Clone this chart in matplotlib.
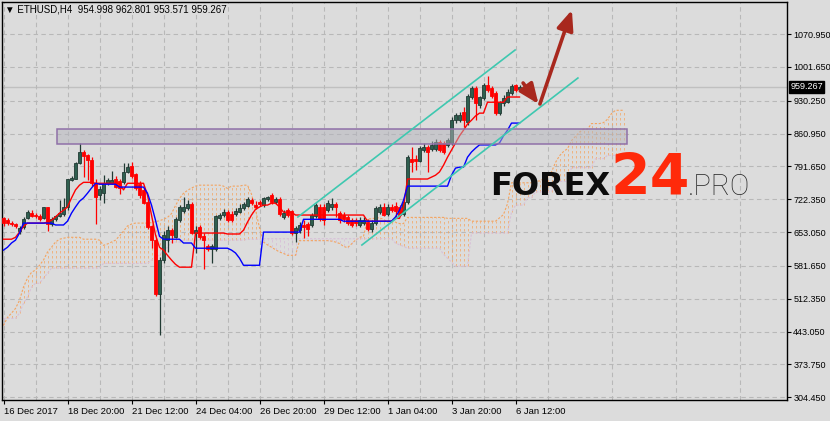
import matplotlib
matplotlib.use("Agg")
import matplotlib.pyplot as plt
from matplotlib.patches import Rectangle
import numpy as np

plt.rcParams['font.family'] = ['Liberation Sans', 'DejaVu Sans']

# ---------------- data (ETHUSD, H4) ----------------
opens = [682, 678, 672, 670, 655, 663, 682, 694, 690, 688,
         682, 705, 670, 680, 687, 691, 706, 763, 766, 799,
         822, 815, 806, 757, 731, 736, 757, 757, 766, 761,
         759, 780, 792, 775, 755, 741, 717, 665, 636, 523,
         594, 636, 657, 643, 678, 697, 703, 713, 651, 664,
         644, 624, 617, 618, 682, 689, 696, 691, 691, 696,
         703, 709, 721, 711, 716, 710, 722, 731, 716, 722,
         684, 699, 697, 651, 658, 668, 670, 668, 686, 707,
         706, 699, 705, 712, 693, 690, 685, 678, 678, 668,
         672, 675, 659, 672, 696, 706, 691, 707, 708, 705,
         691, 716, 808, 808, 804, 826, 832, 829, 829, 843,
         841, 836, 841, 889, 890, 906, 886, 938, 958, 921,
         936, 963, 957, 946, 904, 925, 928, 946, 963, 954.998]
highs = [685, 682, 676, 672, 666, 684, 700, 699, 694, 692,
         707, 707, 685, 690, 720, 724, 766, 772, 800, 841,
         826, 817, 812, 766, 750, 774, 768, 781, 772, 764,
         798, 799, 800, 778, 760, 745, 720, 668, 640, 600,
         655, 665, 662, 684, 710, 727, 720, 716, 665, 668,
         652, 628, 628, 690, 694, 702, 700, 697, 703, 712,
         716, 727, 725, 718, 721, 728, 730, 736, 726, 727,
         700, 703, 700, 666, 675, 678, 675, 694, 715, 712,
         712, 720, 725, 716, 698, 695, 690, 682, 682, 684,
         684, 680, 678, 708, 712, 714, 712, 712, 716, 710,
         720, 815, 832, 815, 835, 840, 836, 845, 850, 847,
         846, 852, 895, 905, 906, 917, 945, 962, 962, 941,
         967, 982, 962, 950, 930, 942, 954, 965, 966, 962.801]
lows = [666, 667, 666, 661, 650, 660, 680, 685, 683, 677,
        680, 656, 666, 677, 684, 688, 700, 760, 764, 797,
        770, 763, 750, 671, 720, 714, 752, 754, 745, 733,
        755, 778, 768, 742, 724, 712, 660, 620, 518, 435,
        588, 610, 630, 640, 675, 694, 700, 648, 608, 638,
        576, 613, 588, 614, 678, 685, 675, 675, 688, 693,
        700, 705, 710, 702, 708, 706, 718, 712, 712, 688,
        680, 685, 647, 632, 652, 641, 645, 664, 683, 676,
        668, 695, 700, 685, 672, 675, 668, 664, 666, 664,
        667, 655, 653, 668, 692, 686, 688, 696, 684, 686,
        688, 712, 780, 784, 800, 822, 780, 825, 825, 822,
        818, 832, 836, 884, 885, 875, 880, 934, 890, 915,
        932, 948, 936, 900, 900, 920, 925, 942, 948, 953.571]
closes = [672, 673, 670, 665, 662, 680, 696, 688, 686, 680,
          705, 670, 681, 687, 694, 706, 764, 768, 799, 822,
          813, 805, 756, 726, 744, 757, 762, 763, 749, 745,
          780, 791, 771, 745, 731, 715, 664, 636, 523, 594,
          646, 657, 646, 680, 706, 706, 713, 651, 658, 642,
          636, 617, 624, 686, 689, 696, 678, 678, 698, 703,
          712, 722, 714, 705, 712, 724, 727, 717, 722, 692,
          694, 690, 651, 661, 669, 664, 660, 689, 710, 680,
          678, 714, 712, 705, 678, 680, 672, 668, 672, 678,
          678, 659, 672, 703, 706, 689, 707, 700, 698, 690,
          716, 811, 800, 803, 830, 832, 822, 836, 843, 826,
          822, 847, 889, 900, 900, 890, 940, 958, 925, 937,
          963, 953, 940, 904, 927, 936, 949, 961, 953, 959.267]

tenkan = [638, 638, 638, 642, 653, 665, 672, 672, 672, 672,
          672, 674, 678, 685, 693, 699, 706, 725, 742, 752,
          758, 758, 758, 756, 756, 756, 756, 756, 756, 756,
          742, 756, 756, 756, 756, 756, 731, 689, 647, 621,
          615, 604, 594, 585, 579, 579, 579, 579, 651, 651,
          651, 651, 651, 651, 651, 651, 649, 649, 649, 649,
          657, 674, 689, 701, 706, 710, 710, 714, 714, 706,
          695, 695, 695, 689, 689, 689, 689, 689, 689, 689,
          689, 689, 689, 689, 689, 689, 689, 689, 689, 689,
          689, 676, 676, 676, 676, 676, 676, 676, 682, 682,
          706, 765, 765, 765, 765, 765, 765, 769, 773, 780,
          794, 811, 826, 841, 856, 868, 881, 889, 898, 904,
          904, 927, 927, 927, 927, 927, 938, 938, 938, 938]
kijun = [615, 621, 630, 636, 651, 672, 672, 672, 672, 672,
         672, 672, 672, 668, 668, 668, 676, 693, 706, 718,
         725, 735, 746, 756, 754, 754, 754, 754, 754, 748,
         748, 748, 748, 748, 748, 748, 735, 710, 678, 644,
         638, 638, 638, 638, 638, 630, 630, 630, 619, 619,
         619, 619, 619, 619, 619, 619, 619, 615, 609, 598,
         583, 583, 583, 583, 583, 653, 653, 653, 653, 653,
         653, 653, 653, 653, 653, 680, 680, 680, 680, 680,
         680, 680, 680, 680, 680, 676, 676, 676, 676, 676,
         676, 676, 676, 676, 676, 676, 676, 676, 685, 699,
         720, 750, 750, 750, 750, 750, 750, 750, 750, 750,
         750, 750, 773, 788, 790, 790, 811, 822, 830, 837,
         837, 837, 837, 837, 841, 856, 868, 883, 883, 883]
span_a = [456, 473, 482, 492, 509, 537, 556, 568, 573, 583,
          594, 611, 621, 632, 638, 640, 642, 642, 642, 642,
          638, 638, 638, 638, 636, 625, 628, 632, 636, 645,
          655, 666, 670, 672, 672, 672, 672, 673, 675, 677,
          680, 684, 692, 709, 724, 735, 741, 746, 750, 752,
          752, 752, 752, 752, 752, 750, 745, 750, 750, 750,
          752, 752, 733, 700, 662, 632, 626, 621, 616, 611,
          608, 604, 604, 604, 635, 635, 635, 635, 635, 635,
          635, 635, 634, 632, 629, 623, 620, 628, 636, 642,
          644, 681, 681, 683, 683, 680, 674, 674, 674, 671,
          671, 684, 684, 684, 684, 684, 684, 684, 684, 684,
          684, 682, 682, 682, 682, 682, 682, 676, 676, 676,
          676, 676, 676, 676, 683, 690, 713, 757, 757, 757,
          757, 757, 757, 760, 761, 765, 772, 780, 800, 814,
          823, 829, 846, 855, 864, 870, 870, 882, 882, 882,
          884, 891, 903, 910, 910, 910]
span_b = [471, 471, 471, 471, 482, 503, 516, 537, 545, 545,
          556, 566, 577, 577, 577, 577, 577, 577, 577, 577,
          577, 577, 577, 577, 577, 587, 587, 587, 587, 587,
          587, 587, 587, 587, 587, 587, 587, 594, 600, 604,
          615, 621, 632, 632, 632, 636, 636, 636, 636, 636,
          636, 636, 636, 636, 636, 636, 636, 636, 636, 636,
          636, 638, 638, 638, 638, 639, 639, 639, 639, 639,
          639, 639, 639, 639, 639, 639, 639, 639, 639, 639,
          639, 639, 639, 639, 639, 639, 639, 639, 639, 639,
          639, 639, 639, 639, 639, 639, 639, 639, 630, 626,
          623, 619, 619, 619, 619, 619, 619, 619, 619, 619,
          606, 598, 590, 581, 581, 581, 581, 651, 651, 651,
          651, 651, 651, 651, 651, 651, 651, 695, 710, 710,
          710, 726, 726, 738, 738, 738, 738, 738, 760, 760,
          760, 760, 789, 789, 789, 789, 789, 789, 808, 808,
          808, 815, 815, 815, 815, 815]

price_ticks = [1070.950, 1001.650, 930.250, 860.950, 791.650, 722.350,
               653.050, 581.650, 512.350, 443.050, 373.750, 304.450]
time_tick_bars = [0, 16, 32, 48, 64, 80, 96, 112, 128]
time_tick_labels = ["16 Dec 2017", "18 Dec 20:00", "21 Dec 12:00", "24 Dec 04:00",
                    "26 Dec 20:00", "29 Dec 12:00", "1 Jan 04:00", "3 Jan 20:00",
                    "6 Jan 12:00"]
header = "ETHUSD,H4  954.998 962.801 953.571 959.267"
last_price = 959.267
zone_low, zone_high = 838.7, 870.4
zone_start, zone_end = 13.4, 155.9
channel_upper = ([73.6, 127.9], [684.9, 1037.2])
channel_lower = ([89.6, 143.6], [625.8, 978.1])

# ---------------- figure ----------------
W, H = 830, 421
BG = '#dcdcdc'
fig = plt.figure(figsize=(W / 100, H / 100), dpi=100)
fig.patch.set_facecolor(BG)
ax = fig.add_axes([2 / W, 21 / H, 785 / W, 398 / H])
ax.set_facecolor(BG)

def py2price(y):
    return 1070.95 - (y - 34) * 2.1098

ax.set_xlim(-0.375, 195.875)
ax.set_ylim(py2price(400), py2price(2))

# grid
ax.set_yticks(price_ticks)
ax.set_yticklabels([f"{p:.3f}" for p in price_ticks])
ax.set_xticks(time_tick_bars)
ax.set_xticklabels(time_tick_labels)
ax.set_xticks(np.arange(8, 196, 16), minor=True)
ax.grid(True, which='both', color='#b8b8b8', lw=0.8, ls=(0, (4, 3)))
ax.set_axisbelow(True)
ax.yaxis.tick_right()
ax.tick_params(axis='y', which='major', length=3, width=0.8, pad=1.5,
               labelsize=6.5, colors='black', direction='out')
ax.tick_params(axis='x', which='major', length=3, width=0.8, pad=2,
               labelsize=6.8, colors='black', direction='out')
ax.tick_params(axis='x', which='minor', length=0)
for lab in ax.get_xticklabels():
    lab.set_ha('left')
for s in ax.spines.values():
    s.set_color('black')
    s.set_linewidth(1.0)

n = len(opens)
idx = np.arange(n)
o = np.array(opens, float); c = np.array(closes, float)
hi = np.array(highs, float); lo = np.array(lows, float)

# Ichimoku cloud hatch
nspan = len(span_a)
sidx = np.arange(nspan)
sa = np.array(span_a, float); sb = np.array(span_b, float)
upk = sa >= sb
ax.vlines(sidx[upk], sb[upk], sa[upk], colors='#f4a460', lw=0.6, alpha=0.85,
          ls=(0, (3, 3)), zorder=1)
ax.vlines(sidx[~upk], sa[~upk], sb[~upk], colors='#d8bfd8', lw=0.6,
          ls=(0, (3, 3)), zorder=1)
ax.plot(sidx, sa, color='#f4a460', lw=0.8, ls=(0, (2, 1.5)), zorder=1.5)
ax.plot(sidx, sb, color='#d8bfd8', lw=0.8, ls=(0, (2, 1.5)), zorder=1.5)

# candles
up = c >= o
bull_face, bull_edge, bear = '#2f5f4f', '#213a33', '#ff0000'
ax.vlines(idx[up], lo[up], hi[up], colors=bull_edge, lw=0.9, zorder=3)
ax.vlines(idx[~up], lo[~up], hi[~up], colors=bear, lw=0.9, zorder=3)
body_lo = np.minimum(o, c)
body_h = np.maximum(np.abs(c - o), 1.5)
ax.bar(idx[up], body_h[up], bottom=body_lo[up], width=0.75, color=bull_face,
       edgecolor=bull_edge, lw=0.6, zorder=4)
ax.bar(idx[~up], body_h[~up], bottom=body_lo[~up], width=0.75, color=bear,
       edgecolor=bear, lw=0.6, zorder=4)

# Tenkan / Kijun
ax.plot(idx, tenkan, color='#ff0000', lw=1.0, zorder=5)
ax.plot(idx, kijun, color='#0000ff', lw=1.0, zorder=5)

# last price line
ax.axhline(last_price, color='#c0c0c0', lw=1.0, zorder=0.5)
ax.annotate(f"{last_price:.3f}", xy=(1, last_price), xycoords=('axes fraction', 'data'),
            xytext=(2.5, 0), textcoords='offset points', va='center', ha='left',
            fontsize=6.5, color='white',
            bbox=dict(boxstyle='square,pad=0.15', fc='black', ec='black'),
            annotation_clip=False)

# zone rectangle
ax.add_patch(Rectangle((zone_start, zone_low), zone_end - zone_start, zone_high - zone_low,
                       facecolor='#b4b4bc', alpha=0.5, edgecolor='none', zorder=6))
ax.add_patch(Rectangle((zone_start, zone_low), zone_end - zone_start, zone_high - zone_low,
                       facecolor='none', edgecolor='#9070a8', lw=1.1, zorder=6.1))

# channel
ax.plot(*channel_upper, color='#3ec8b0', lw=1.2, zorder=7)
ax.plot(*channel_lower, color='#3ec8b0', lw=1.2, zorder=7)

# arrows
arrow_col = '#a8281e'
ax.annotate('', xy=(133.75, 923.3), xytext=(129.9, 967.6),
            arrowprops=dict(arrowstyle='-|>,head_length=1.2,head_width=0.5',
                            lw=2.6, color=arrow_col, mutation_scale=10,
                            shrinkA=0, shrinkB=0), zorder=8)
ax.annotate('', xy=(142.1, 1121.6), xytext=(134.1, 923.3),
            arrowprops=dict(arrowstyle='-|>,head_length=1.2,head_width=0.5',
                            lw=2.6, color=arrow_col, mutation_scale=10,
                            shrinkA=0, shrinkB=0), zorder=8)

# logo
fig.text(490 / W, 1 - 195 / H, "FOREX", fontsize=23, fontweight='heavy',
         family=['DejaVu Sans'], color='#0d0d0d', va='baseline', ha='left', zorder=9)
fig.text(610 / W, 1 - 195 / H, "24", fontsize=41, fontweight='bold',
         family=['DejaVu Sans'], color='#ff2a0a', va='baseline', ha='left', zorder=9)
fig.text(688 / W, 1 - 195 / H, ".PRO", fontsize=21, fontweight='light',
         family=['Roboto', 'DejaVu Sans'], color='#2a2a2a', va='baseline', ha='left', zorder=9)

# header
fig.text(5 / W, 1 - 10 / H, "\u25bc " + header, fontsize=7, va='center', ha='left',
         color='black')

fig.savefig("out.png", dpi=100, facecolor=BG)
